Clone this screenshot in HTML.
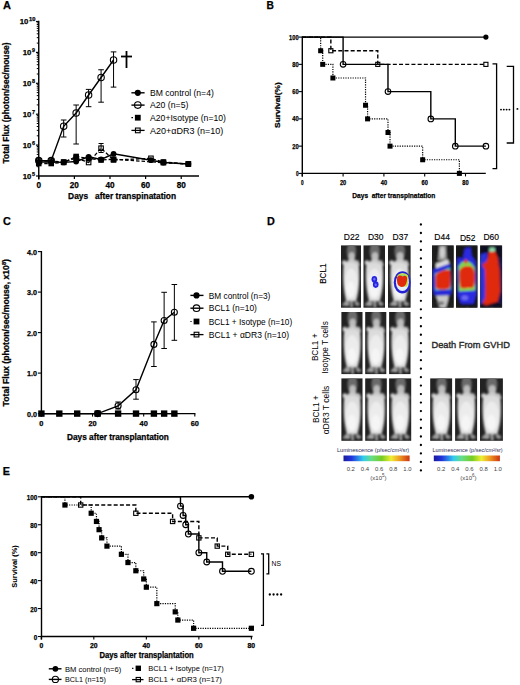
<!DOCTYPE html>
<html><head><meta charset="utf-8"><style>
html,body{margin:0;padding:0;background:#fff;width:520px;height:685px;overflow:hidden}
svg{display:block}
text{font-family:"Liberation Sans", sans-serif}
text[font-weight=bold]{stroke:#000;stroke-width:0.25px}
</style></head><body>
<svg width="520" height="685" viewBox="0 0 520 685">

<defs>
<filter id="bl" x="-20%" y="-20%" width="140%" height="140%"><feGaussianBlur stdDeviation="1.0"/></filter>
<filter id="bl2" x="-20%" y="-20%" width="140%" height="140%"><feGaussianBlur stdDeviation="0.85"/></filter>
<filter id="bl3" x="-20%" y="-20%" width="140%" height="140%"><feGaussianBlur stdDeviation="0.45"/></filter>
<linearGradient id="lum" x1="0" x2="1" y1="0" y2="0">
<stop offset="0" stop-color="#1a1a9a"/><stop offset="0.12" stop-color="#2233dd"/><stop offset="0.3" stop-color="#33ccee"/>
<stop offset="0.42" stop-color="#66dd88"/><stop offset="0.58" stop-color="#77cc22"/><stop offset="0.72" stop-color="#eeee33"/>
<stop offset="0.85" stop-color="#ee9922"/><stop offset="1" stop-color="#cc3311"/></linearGradient>
<clipPath id="fr"><rect width="22" height="62"/></clipPath>
</defs>

<rect width="520" height="685" fill="#fff"/>
<text x="3.00" y="9.30" font-size="11" font-weight="bold" text-anchor="start" fill="#000">A</text>
<line x1="38.75" y1="20.80" x2="38.75" y2="179.50" stroke="#000" stroke-width="1.4"/>
<line x1="38.75" y1="176.00" x2="199.00" y2="176.00" stroke="#000" stroke-width="1.4"/>
<line x1="38.75" y1="176.00" x2="38.75" y2="179.00" stroke="#000" stroke-width="1.2"/>
<text x="38.75" y="187.80" font-size="8.2" font-weight="bold" text-anchor="middle" fill="#000">0</text>
<line x1="74.37" y1="176.00" x2="74.37" y2="179.00" stroke="#000" stroke-width="1.2"/>
<text x="74.37" y="187.80" font-size="8.2" font-weight="bold" text-anchor="middle" fill="#000">20</text>
<line x1="109.99" y1="176.00" x2="109.99" y2="179.00" stroke="#000" stroke-width="1.2"/>
<text x="109.99" y="187.80" font-size="8.2" font-weight="bold" text-anchor="middle" fill="#000">40</text>
<line x1="145.61" y1="176.00" x2="145.61" y2="179.00" stroke="#000" stroke-width="1.2"/>
<text x="145.61" y="187.80" font-size="8.2" font-weight="bold" text-anchor="middle" fill="#000">60</text>
<line x1="181.23" y1="176.00" x2="181.23" y2="179.00" stroke="#000" stroke-width="1.2"/>
<text x="181.23" y="187.80" font-size="8.2" font-weight="bold" text-anchor="middle" fill="#000">80</text>
<line x1="35.95" y1="176.00" x2="38.75" y2="176.00" stroke="#000" stroke-width="1.2"/>
<line x1="36.75" y1="166.70" x2="38.75" y2="166.70" stroke="#000" stroke-width="1.0"/>
<line x1="36.75" y1="161.26" x2="38.75" y2="161.26" stroke="#000" stroke-width="1.0"/>
<line x1="36.75" y1="157.40" x2="38.75" y2="157.40" stroke="#000" stroke-width="1.0"/>
<line x1="36.75" y1="154.40" x2="38.75" y2="154.40" stroke="#000" stroke-width="1.0"/>
<line x1="36.75" y1="151.96" x2="38.75" y2="151.96" stroke="#000" stroke-width="1.0"/>
<line x1="36.75" y1="149.89" x2="38.75" y2="149.89" stroke="#000" stroke-width="1.0"/>
<line x1="36.75" y1="148.09" x2="38.75" y2="148.09" stroke="#000" stroke-width="1.0"/>
<line x1="36.75" y1="146.51" x2="38.75" y2="146.51" stroke="#000" stroke-width="1.0"/>
<text x="31.40" y="178.90" font-size="7.8" font-weight="bold" text-anchor="end" fill="#000" textLength="8.60" lengthAdjust="spacingAndGlyphs">10</text>
<text x="32.00" y="175.70" font-size="5.4" font-weight="bold" text-anchor="start" fill="#000">5</text>
<line x1="35.95" y1="145.10" x2="38.75" y2="145.10" stroke="#000" stroke-width="1.2"/>
<line x1="36.75" y1="135.80" x2="38.75" y2="135.80" stroke="#000" stroke-width="1.0"/>
<line x1="36.75" y1="130.36" x2="38.75" y2="130.36" stroke="#000" stroke-width="1.0"/>
<line x1="36.75" y1="126.50" x2="38.75" y2="126.50" stroke="#000" stroke-width="1.0"/>
<line x1="36.75" y1="123.50" x2="38.75" y2="123.50" stroke="#000" stroke-width="1.0"/>
<line x1="36.75" y1="121.06" x2="38.75" y2="121.06" stroke="#000" stroke-width="1.0"/>
<line x1="36.75" y1="118.99" x2="38.75" y2="118.99" stroke="#000" stroke-width="1.0"/>
<line x1="36.75" y1="117.19" x2="38.75" y2="117.19" stroke="#000" stroke-width="1.0"/>
<line x1="36.75" y1="115.61" x2="38.75" y2="115.61" stroke="#000" stroke-width="1.0"/>
<text x="31.40" y="148.00" font-size="7.8" font-weight="bold" text-anchor="end" fill="#000" textLength="8.60" lengthAdjust="spacingAndGlyphs">10</text>
<text x="32.00" y="144.80" font-size="5.4" font-weight="bold" text-anchor="start" fill="#000">6</text>
<line x1="35.95" y1="114.20" x2="38.75" y2="114.20" stroke="#000" stroke-width="1.2"/>
<line x1="36.75" y1="104.90" x2="38.75" y2="104.90" stroke="#000" stroke-width="1.0"/>
<line x1="36.75" y1="99.46" x2="38.75" y2="99.46" stroke="#000" stroke-width="1.0"/>
<line x1="36.75" y1="95.60" x2="38.75" y2="95.60" stroke="#000" stroke-width="1.0"/>
<line x1="36.75" y1="92.60" x2="38.75" y2="92.60" stroke="#000" stroke-width="1.0"/>
<line x1="36.75" y1="90.16" x2="38.75" y2="90.16" stroke="#000" stroke-width="1.0"/>
<line x1="36.75" y1="88.09" x2="38.75" y2="88.09" stroke="#000" stroke-width="1.0"/>
<line x1="36.75" y1="86.29" x2="38.75" y2="86.29" stroke="#000" stroke-width="1.0"/>
<line x1="36.75" y1="84.71" x2="38.75" y2="84.71" stroke="#000" stroke-width="1.0"/>
<text x="31.40" y="117.10" font-size="7.8" font-weight="bold" text-anchor="end" fill="#000" textLength="8.60" lengthAdjust="spacingAndGlyphs">10</text>
<text x="32.00" y="113.90" font-size="5.4" font-weight="bold" text-anchor="start" fill="#000">7</text>
<line x1="35.95" y1="83.30" x2="38.75" y2="83.30" stroke="#000" stroke-width="1.2"/>
<line x1="36.75" y1="74.00" x2="38.75" y2="74.00" stroke="#000" stroke-width="1.0"/>
<line x1="36.75" y1="68.56" x2="38.75" y2="68.56" stroke="#000" stroke-width="1.0"/>
<line x1="36.75" y1="64.70" x2="38.75" y2="64.70" stroke="#000" stroke-width="1.0"/>
<line x1="36.75" y1="61.70" x2="38.75" y2="61.70" stroke="#000" stroke-width="1.0"/>
<line x1="36.75" y1="59.26" x2="38.75" y2="59.26" stroke="#000" stroke-width="1.0"/>
<line x1="36.75" y1="57.19" x2="38.75" y2="57.19" stroke="#000" stroke-width="1.0"/>
<line x1="36.75" y1="55.39" x2="38.75" y2="55.39" stroke="#000" stroke-width="1.0"/>
<line x1="36.75" y1="53.81" x2="38.75" y2="53.81" stroke="#000" stroke-width="1.0"/>
<text x="31.40" y="86.20" font-size="7.8" font-weight="bold" text-anchor="end" fill="#000" textLength="8.60" lengthAdjust="spacingAndGlyphs">10</text>
<text x="32.00" y="83.00" font-size="5.4" font-weight="bold" text-anchor="start" fill="#000">8</text>
<line x1="35.95" y1="52.40" x2="38.75" y2="52.40" stroke="#000" stroke-width="1.2"/>
<line x1="36.75" y1="43.10" x2="38.75" y2="43.10" stroke="#000" stroke-width="1.0"/>
<line x1="36.75" y1="37.66" x2="38.75" y2="37.66" stroke="#000" stroke-width="1.0"/>
<line x1="36.75" y1="33.80" x2="38.75" y2="33.80" stroke="#000" stroke-width="1.0"/>
<line x1="36.75" y1="30.80" x2="38.75" y2="30.80" stroke="#000" stroke-width="1.0"/>
<line x1="36.75" y1="28.36" x2="38.75" y2="28.36" stroke="#000" stroke-width="1.0"/>
<line x1="36.75" y1="26.29" x2="38.75" y2="26.29" stroke="#000" stroke-width="1.0"/>
<line x1="36.75" y1="24.49" x2="38.75" y2="24.49" stroke="#000" stroke-width="1.0"/>
<line x1="36.75" y1="22.91" x2="38.75" y2="22.91" stroke="#000" stroke-width="1.0"/>
<text x="31.40" y="55.30" font-size="7.8" font-weight="bold" text-anchor="end" fill="#000" textLength="8.60" lengthAdjust="spacingAndGlyphs">10</text>
<text x="32.00" y="52.10" font-size="5.4" font-weight="bold" text-anchor="start" fill="#000">9</text>
<line x1="35.95" y1="21.50" x2="38.75" y2="21.50" stroke="#000" stroke-width="1.2"/>
<text x="28.40" y="24.40" font-size="7.8" font-weight="bold" text-anchor="end" fill="#000" textLength="8.60" lengthAdjust="spacingAndGlyphs">10</text>
<text x="29.00" y="21.20" font-size="5.4" font-weight="bold" text-anchor="start" fill="#000" textLength="6.40" lengthAdjust="spacingAndGlyphs">10</text>
<text x="68.10" y="199.40" font-size="9.2" font-weight="bold" text-anchor="start" fill="#000" textLength="108.00" lengthAdjust="spacingAndGlyphs">Days&#160;&#160; after transpinatation</text>
<text x="9.30" y="103.00" font-size="9" font-weight="bold" text-anchor="middle" fill="#000" textLength="121.00" lengthAdjust="spacingAndGlyphs" transform="rotate(-90 9.30 103.00)">Total Flux (photon/sec/mouse)</text>
<line x1="126.50" y1="51.00" x2="126.50" y2="68.00" stroke="#000" stroke-width="1.8"/>
<line x1="121.00" y1="56.50" x2="132.00" y2="56.50" stroke="#000" stroke-width="1.8"/>
<line x1="63.68" y1="120.00" x2="63.68" y2="137.00" stroke="#000" stroke-width="1.0"/>
<line x1="60.88" y1="120.00" x2="66.48" y2="120.00" stroke="#000" stroke-width="1.0"/>
<line x1="60.88" y1="137.00" x2="66.48" y2="137.00" stroke="#000" stroke-width="1.0"/>
<line x1="76.15" y1="105.00" x2="76.15" y2="144.00" stroke="#000" stroke-width="1.0"/>
<line x1="73.35" y1="105.00" x2="78.95" y2="105.00" stroke="#000" stroke-width="1.0"/>
<line x1="73.35" y1="144.00" x2="78.95" y2="144.00" stroke="#000" stroke-width="1.0"/>
<line x1="88.62" y1="89.40" x2="88.62" y2="106.70" stroke="#000" stroke-width="1.0"/>
<line x1="85.82" y1="89.40" x2="91.42" y2="89.40" stroke="#000" stroke-width="1.0"/>
<line x1="85.82" y1="106.70" x2="91.42" y2="106.70" stroke="#000" stroke-width="1.0"/>
<line x1="101.08" y1="69.75" x2="101.08" y2="102.20" stroke="#000" stroke-width="1.0"/>
<line x1="98.28" y1="69.75" x2="103.88" y2="69.75" stroke="#000" stroke-width="1.0"/>
<line x1="98.28" y1="102.20" x2="103.88" y2="102.20" stroke="#000" stroke-width="1.0"/>
<line x1="113.55" y1="51.90" x2="113.55" y2="87.10" stroke="#000" stroke-width="1.0"/>
<line x1="110.75" y1="51.90" x2="116.35" y2="51.90" stroke="#000" stroke-width="1.0"/>
<line x1="110.75" y1="87.10" x2="116.35" y2="87.10" stroke="#000" stroke-width="1.0"/>
<line x1="101.08" y1="143.50" x2="101.08" y2="152.50" stroke="#000" stroke-width="1.0"/>
<line x1="98.58" y1="143.50" x2="103.58" y2="143.50" stroke="#000" stroke-width="1.0"/>
<line x1="98.58" y1="152.50" x2="103.58" y2="152.50" stroke="#000" stroke-width="1.0"/>
<polyline points="38.75,163.50 51.22,163.50 63.68,162.40 76.15,156.50 88.62,158.50 101.08,160.00 113.55,159.20 163.42,162.70 188.35,164.00" fill="none" stroke="#000" stroke-width="1.3" stroke-dasharray="3.5,2" stroke-linejoin="miter"/>
<polyline points="38.75,161.00 51.22,161.00 63.68,162.00 76.15,158.00 88.62,162.50 101.08,148.20 113.55,160.00 150.95,158.30 163.42,162.00 188.35,164.00" fill="none" stroke="#000" stroke-width="1.3" stroke-dasharray="3.5,2" stroke-linejoin="miter"/>
<polyline points="38.75,162.00 51.22,162.00 63.68,162.40 76.15,161.50 88.62,156.80 101.08,159.50 113.55,153.80 150.95,160.20 163.42,162.50 188.35,164.00" fill="none" stroke="#000" stroke-width="1.4" stroke-linejoin="miter"/>
<polyline points="38.75,160.60 51.22,160.60 63.68,126.25 76.15,113.00 88.62,95.00 101.08,77.50 113.55,60.00" fill="none" stroke="#000" stroke-width="1.4" stroke-linejoin="miter"/>
<rect x="35.95" y="160.70" width="5.6" height="5.6" fill="#000"/>
<rect x="48.42" y="160.70" width="5.6" height="5.6" fill="#000"/>
<rect x="60.88" y="159.60" width="5.6" height="5.6" fill="#000"/>
<rect x="73.35" y="153.70" width="5.6" height="5.6" fill="#000"/>
<rect x="85.82" y="155.70" width="5.6" height="5.6" fill="#000"/>
<rect x="98.28" y="157.20" width="5.6" height="5.6" fill="#000"/>
<rect x="110.75" y="156.40" width="5.6" height="5.6" fill="#000"/>
<rect x="160.62" y="159.90" width="5.6" height="5.6" fill="#000"/>
<rect x="185.55" y="161.20" width="5.6" height="5.6" fill="#000"/>
<rect x="36.50" y="158.75" width="4.5" height="4.5" fill="none" stroke="#000" stroke-width="1.1"/>
<rect x="48.97" y="158.75" width="4.5" height="4.5" fill="none" stroke="#000" stroke-width="1.1"/>
<rect x="61.43" y="159.75" width="4.5" height="4.5" fill="none" stroke="#000" stroke-width="1.1"/>
<rect x="73.90" y="155.75" width="4.5" height="4.5" fill="none" stroke="#000" stroke-width="1.1"/>
<rect x="86.37" y="160.25" width="4.5" height="4.5" fill="none" stroke="#000" stroke-width="1.1"/>
<rect x="98.83" y="145.95" width="4.5" height="4.5" fill="none" stroke="#000" stroke-width="1.1"/>
<rect x="111.30" y="157.75" width="4.5" height="4.5" fill="none" stroke="#000" stroke-width="1.1"/>
<rect x="148.70" y="156.05" width="4.5" height="4.5" fill="none" stroke="#000" stroke-width="1.1"/>
<rect x="161.17" y="159.75" width="4.5" height="4.5" fill="none" stroke="#000" stroke-width="1.1"/>
<rect x="186.10" y="161.75" width="4.5" height="4.5" fill="none" stroke="#000" stroke-width="1.1"/>
<circle cx="38.75" cy="162.00" r="2.9" fill="#000"/>
<circle cx="51.22" cy="162.00" r="2.9" fill="#000"/>
<circle cx="63.68" cy="162.40" r="2.9" fill="#000"/>
<circle cx="76.15" cy="161.50" r="2.9" fill="#000"/>
<circle cx="88.62" cy="156.80" r="2.9" fill="#000"/>
<circle cx="101.08" cy="159.50" r="2.9" fill="#000"/>
<circle cx="113.55" cy="153.80" r="2.9" fill="#000"/>
<circle cx="150.95" cy="160.20" r="2.9" fill="#000"/>
<circle cx="163.42" cy="162.50" r="2.9" fill="#000"/>
<circle cx="188.35" cy="164.00" r="2.9" fill="#000"/>
<circle cx="38.75" cy="160.60" r="3.2" fill="none" stroke="#000" stroke-width="1.1"/>
<circle cx="51.22" cy="160.60" r="3.2" fill="none" stroke="#000" stroke-width="1.1"/>
<circle cx="63.68" cy="126.25" r="3.2" fill="none" stroke="#000" stroke-width="1.1"/>
<circle cx="76.15" cy="113.00" r="3.2" fill="none" stroke="#000" stroke-width="1.1"/>
<circle cx="88.62" cy="95.00" r="3.2" fill="none" stroke="#000" stroke-width="1.1"/>
<circle cx="101.08" cy="77.50" r="3.2" fill="none" stroke="#000" stroke-width="1.1"/>
<circle cx="113.55" cy="60.00" r="3.2" fill="none" stroke="#000" stroke-width="1.1"/>
<line x1="131.40" y1="92.80" x2="144.60" y2="92.80" stroke="#000" stroke-width="1.4"/>
<circle cx="137.80" cy="92.80" r="3.1" fill="#000"/>
<text x="150.00" y="95.90" font-size="8.8" font-weight="normal" text-anchor="start" fill="#000" textLength="63.80" lengthAdjust="spacingAndGlyphs">BM control (n=4)</text>
<line x1="131.40" y1="105.10" x2="144.60" y2="105.10" stroke="#000" stroke-width="1.4"/>
<circle cx="137.80" cy="105.10" r="3.3" fill="none" stroke="#000" stroke-width="1.1"/>
<text x="150.00" y="108.20" font-size="8.8" font-weight="normal" text-anchor="start" fill="#000" textLength="38.40" lengthAdjust="spacingAndGlyphs">A20 (n=5)</text>
<line x1="131.40" y1="117.70" x2="133.00" y2="117.70" stroke="#000" stroke-width="1.2"/>
<rect x="134.90" y="114.80" width="5.8" height="5.8" fill="#000"/>
<text x="150.00" y="120.80" font-size="8.8" font-weight="normal" text-anchor="start" fill="#000" textLength="76.00" lengthAdjust="spacingAndGlyphs">A20+Isotype (n=10)</text>
<line x1="131.40" y1="130.40" x2="144.60" y2="130.40" stroke="#000" stroke-width="1.3"/>
<rect x="135.45" y="128.05" width="4.699999999999999" height="4.699999999999999" fill="none" stroke="#000" stroke-width="1.1"/>
<text x="150.00" y="133.50" font-size="8.8" font-weight="normal" text-anchor="start" fill="#000" textLength="73.30" lengthAdjust="spacingAndGlyphs">A20+&#945;DR3 (n=10)</text>
<text x="266.60" y="9.20" font-size="10.2" font-weight="bold" text-anchor="start" fill="#000">B</text>
<line x1="302.30" y1="36.50" x2="302.30" y2="176.40" stroke="#000" stroke-width="1.4"/>
<line x1="302.30" y1="173.40" x2="485.80" y2="173.40" stroke="#000" stroke-width="1.4"/>
<line x1="298.60" y1="173.40" x2="302.30" y2="173.40" stroke="#000" stroke-width="1.1"/>
<text x="298.60" y="176.00" font-size="7.2" font-weight="bold" text-anchor="end" fill="#000" textLength="2.60" lengthAdjust="spacingAndGlyphs">0</text>
<line x1="298.60" y1="146.14" x2="302.30" y2="146.14" stroke="#000" stroke-width="1.1"/>
<text x="298.60" y="148.74" font-size="7.2" font-weight="bold" text-anchor="end" fill="#000" textLength="6.40" lengthAdjust="spacingAndGlyphs">20</text>
<line x1="298.60" y1="118.88" x2="302.30" y2="118.88" stroke="#000" stroke-width="1.1"/>
<text x="298.60" y="121.48" font-size="7.2" font-weight="bold" text-anchor="end" fill="#000" textLength="6.40" lengthAdjust="spacingAndGlyphs">40</text>
<line x1="298.60" y1="91.62" x2="302.30" y2="91.62" stroke="#000" stroke-width="1.1"/>
<text x="298.60" y="94.22" font-size="7.2" font-weight="bold" text-anchor="end" fill="#000" textLength="6.40" lengthAdjust="spacingAndGlyphs">60</text>
<line x1="298.60" y1="64.36" x2="302.30" y2="64.36" stroke="#000" stroke-width="1.1"/>
<text x="298.60" y="66.96" font-size="7.2" font-weight="bold" text-anchor="end" fill="#000" textLength="6.40" lengthAdjust="spacingAndGlyphs">80</text>
<line x1="298.60" y1="37.10" x2="302.30" y2="37.10" stroke="#000" stroke-width="1.1"/>
<text x="298.60" y="39.70" font-size="7.2" font-weight="bold" text-anchor="end" fill="#000" textLength="9.50" lengthAdjust="spacingAndGlyphs">100</text>
<line x1="302.30" y1="173.40" x2="302.30" y2="176.40" stroke="#000" stroke-width="1.1"/>
<text x="302.30" y="184.80" font-size="6.8" font-weight="bold" text-anchor="middle" fill="#000" textLength="2.60" lengthAdjust="spacingAndGlyphs">0</text>
<line x1="343.10" y1="173.40" x2="343.10" y2="176.40" stroke="#000" stroke-width="1.1"/>
<text x="343.10" y="184.80" font-size="6.8" font-weight="bold" text-anchor="middle" fill="#000" textLength="6.30" lengthAdjust="spacingAndGlyphs">20</text>
<line x1="383.90" y1="173.40" x2="383.90" y2="176.40" stroke="#000" stroke-width="1.1"/>
<text x="383.90" y="184.80" font-size="6.8" font-weight="bold" text-anchor="middle" fill="#000" textLength="6.30" lengthAdjust="spacingAndGlyphs">40</text>
<line x1="424.70" y1="173.40" x2="424.70" y2="176.40" stroke="#000" stroke-width="1.1"/>
<text x="424.70" y="184.80" font-size="6.8" font-weight="bold" text-anchor="middle" fill="#000" textLength="6.30" lengthAdjust="spacingAndGlyphs">60</text>
<line x1="465.50" y1="173.40" x2="465.50" y2="176.40" stroke="#000" stroke-width="1.1"/>
<text x="465.50" y="184.80" font-size="6.8" font-weight="bold" text-anchor="middle" fill="#000" textLength="6.30" lengthAdjust="spacingAndGlyphs">80</text>
<text x="352.30" y="198.20" font-size="8.0" font-weight="bold" text-anchor="start" fill="#000" textLength="83.10" lengthAdjust="spacingAndGlyphs">Days&#160; after transpinatation</text>
<text x="280.00" y="105.10" font-size="7.6" font-weight="bold" text-anchor="middle" fill="#000" textLength="45.60" lengthAdjust="spacingAndGlyphs" transform="rotate(-90 280.00 105.10)">Survival(%)</text>
<line x1="302.30" y1="37.10" x2="485.90" y2="37.10" stroke="#000" stroke-width="1.4"/>
<polyline points="302.30,37.10 320.66,37.10 320.66,50.73 322.70,50.73 322.70,64.36 332.90,64.36 332.90,77.99 365.54,77.99 365.54,105.25 367.58,105.25 367.58,118.88 387.98,118.88 387.98,132.51 390.02,132.51 390.02,146.14 422.66,146.14 422.66,159.77 459.38,159.77 459.38,173.40" fill="none" stroke="#000" stroke-width="1.2" stroke-dasharray="1.2,1.2" stroke-linejoin="miter"/>
<polyline points="302.30,37.10 330.86,37.10 330.86,50.73 377.78,50.73 377.78,64.36 485.90,64.36 485.90,64.36" fill="none" stroke="#000" stroke-width="1.4" stroke-dasharray="4,2.2" stroke-linejoin="miter"/>
<polyline points="302.30,37.10 343.10,37.10 343.10,64.36 387.98,64.36 387.98,91.62 430.82,91.62 430.82,118.88 455.30,118.88 455.30,146.14 485.90,146.14 485.90,146.14" fill="none" stroke="#000" stroke-width="1.4" stroke-linejoin="miter"/>
<rect x="318.16" y="48.23" width="5.0" height="5.0" fill="#000"/>
<rect x="320.20" y="61.86" width="5.0" height="5.0" fill="#000"/>
<rect x="330.40" y="75.49" width="5.0" height="5.0" fill="#000"/>
<rect x="363.04" y="102.75" width="5.0" height="5.0" fill="#000"/>
<rect x="365.08" y="116.38" width="5.0" height="5.0" fill="#000"/>
<rect x="385.48" y="130.01" width="5.0" height="5.0" fill="#000"/>
<rect x="387.52" y="143.64" width="5.0" height="5.0" fill="#000"/>
<rect x="420.16" y="157.27" width="5.0" height="5.0" fill="#000"/>
<rect x="456.88" y="170.90" width="5.0" height="5.0" fill="#000"/>
<rect x="483.85" y="62.31" width="4.1" height="4.1" fill="none" stroke="#000" stroke-width="1.1"/>
<rect x="328.81" y="48.68" width="4.1" height="4.1" fill="none" stroke="#000" stroke-width="1.1"/>
<rect x="375.73" y="62.31" width="4.1" height="4.1" fill="none" stroke="#000" stroke-width="1.1"/>
<circle cx="343.10" cy="64.36" r="2.8" fill="none" stroke="#000" stroke-width="1.1"/>
<circle cx="387.98" cy="91.62" r="2.8" fill="none" stroke="#000" stroke-width="1.1"/>
<circle cx="430.82" cy="118.88" r="2.8" fill="none" stroke="#000" stroke-width="1.1"/>
<circle cx="455.30" cy="146.14" r="2.8" fill="none" stroke="#000" stroke-width="1.1"/>
<circle cx="485.90" cy="146.14" r="2.8" fill="none" stroke="#000" stroke-width="1.1"/>
<circle cx="485.90" cy="37.10" r="2.6" fill="#000"/>
<polyline points="492.50,63.90 496.60,63.90 496.60,168.70 492.50,168.70" fill="none" stroke="#000" stroke-width="1.3" stroke-linejoin="miter"/>
<polyline points="506.70,66.40 513.50,66.40 513.50,143.00 506.70,143.00" fill="none" stroke="#000" stroke-width="1.3" stroke-linejoin="miter"/>
<circle cx="501.00" cy="109.6" r="0.95" fill="#000"/>
<circle cx="503.80" cy="109.6" r="0.95" fill="#000"/>
<circle cx="506.60" cy="109.6" r="0.95" fill="#000"/>
<circle cx="509.40" cy="109.6" r="0.95" fill="#000"/>
<circle cx="517.4" cy="108.9" r="0.95" fill="#000"/>
<text x="3.10" y="224.60" font-size="10.8" font-weight="bold" text-anchor="start" fill="#000">C</text>
<line x1="41.40" y1="251.00" x2="41.40" y2="416.60" stroke="#000" stroke-width="1.4"/>
<line x1="41.40" y1="413.60" x2="195.40" y2="413.60" stroke="#000" stroke-width="1.4"/>
<line x1="37.90" y1="413.60" x2="41.40" y2="413.60" stroke="#000" stroke-width="1.1"/>
<text x="37.10" y="416.80" font-size="7.6" font-weight="bold" text-anchor="end" fill="#000" textLength="10.00" lengthAdjust="spacingAndGlyphs">0.0</text>
<line x1="37.90" y1="373.10" x2="41.40" y2="373.10" stroke="#000" stroke-width="1.1"/>
<text x="37.10" y="376.30" font-size="7.6" font-weight="bold" text-anchor="end" fill="#000" textLength="10.00" lengthAdjust="spacingAndGlyphs">1.0</text>
<line x1="37.90" y1="332.60" x2="41.40" y2="332.60" stroke="#000" stroke-width="1.1"/>
<text x="37.10" y="335.80" font-size="7.6" font-weight="bold" text-anchor="end" fill="#000" textLength="10.00" lengthAdjust="spacingAndGlyphs">2.0</text>
<line x1="37.90" y1="292.10" x2="41.40" y2="292.10" stroke="#000" stroke-width="1.1"/>
<text x="37.10" y="295.30" font-size="7.6" font-weight="bold" text-anchor="end" fill="#000" textLength="10.00" lengthAdjust="spacingAndGlyphs">3.0</text>
<line x1="37.90" y1="251.60" x2="41.40" y2="251.60" stroke="#000" stroke-width="1.1"/>
<text x="37.10" y="254.80" font-size="7.6" font-weight="bold" text-anchor="end" fill="#000" textLength="10.00" lengthAdjust="spacingAndGlyphs">4.0</text>
<line x1="41.40" y1="413.60" x2="41.40" y2="416.60" stroke="#000" stroke-width="1.1"/>
<text x="41.40" y="426.10" font-size="7.4" font-weight="bold" text-anchor="middle" fill="#000">0</text>
<line x1="92.54" y1="413.60" x2="92.54" y2="416.60" stroke="#000" stroke-width="1.1"/>
<text x="92.54" y="426.10" font-size="7.4" font-weight="bold" text-anchor="middle" fill="#000">20</text>
<line x1="143.68" y1="413.60" x2="143.68" y2="416.60" stroke="#000" stroke-width="1.1"/>
<text x="143.68" y="426.10" font-size="7.4" font-weight="bold" text-anchor="middle" fill="#000">40</text>
<line x1="194.82" y1="413.60" x2="194.82" y2="416.60" stroke="#000" stroke-width="1.1"/>
<text x="194.82" y="426.10" font-size="7.4" font-weight="bold" text-anchor="middle" fill="#000">60</text>
<text x="67.00" y="439.80" font-size="8.4" font-weight="bold" text-anchor="start" fill="#000" textLength="101.90" lengthAdjust="spacingAndGlyphs">Days after transplantation</text>
<text x="9" y="332.7" font-size="8.4" font-weight="bold" text-anchor="middle" textLength="147.4" lengthAdjust="spacingAndGlyphs" transform="rotate(-90 9 332.7)">Total Flux (photon/sec/mouse, x10<tspan font-size="5.5" dy="-3">8</tspan><tspan dy="3">)</tspan></text>
<line x1="118.11" y1="402.00" x2="118.11" y2="409.00" stroke="#000" stroke-width="1.0"/>
<line x1="115.31" y1="402.00" x2="120.91" y2="402.00" stroke="#000" stroke-width="1.0"/>
<line x1="115.31" y1="409.00" x2="120.91" y2="409.00" stroke="#000" stroke-width="1.0"/>
<line x1="136.01" y1="379.60" x2="136.01" y2="399.20" stroke="#000" stroke-width="1.0"/>
<line x1="133.21" y1="379.60" x2="138.81" y2="379.60" stroke="#000" stroke-width="1.0"/>
<line x1="133.21" y1="399.20" x2="138.81" y2="399.20" stroke="#000" stroke-width="1.0"/>
<line x1="153.91" y1="321.90" x2="153.91" y2="366.50" stroke="#000" stroke-width="1.0"/>
<line x1="151.11" y1="321.90" x2="156.71" y2="321.90" stroke="#000" stroke-width="1.0"/>
<line x1="151.11" y1="366.50" x2="156.71" y2="366.50" stroke="#000" stroke-width="1.0"/>
<line x1="164.14" y1="292.30" x2="164.14" y2="348.50" stroke="#000" stroke-width="1.0"/>
<line x1="161.34" y1="292.30" x2="166.94" y2="292.30" stroke="#000" stroke-width="1.0"/>
<line x1="161.34" y1="348.50" x2="166.94" y2="348.50" stroke="#000" stroke-width="1.0"/>
<line x1="174.36" y1="284.50" x2="174.36" y2="340.30" stroke="#000" stroke-width="1.0"/>
<line x1="171.56" y1="284.50" x2="177.16" y2="284.50" stroke="#000" stroke-width="1.0"/>
<line x1="171.56" y1="340.30" x2="177.16" y2="340.30" stroke="#000" stroke-width="1.0"/>
<polyline points="41.40,413.60 59.30,413.60 77.20,413.60 97.65,413.60 118.11,413.60 136.01,413.60 153.91,413.60 164.14,413.60 174.36,413.60" fill="none" stroke="#000" stroke-width="1.4" stroke-linejoin="miter"/>
<polyline points="41.40,413.60 97.65,413.60 118.11,405.80 136.01,389.80 153.91,344.40 164.14,320.50 174.36,312.30" fill="none" stroke="#000" stroke-width="1.4" stroke-linejoin="miter"/>
<rect x="38.20" y="410.40" width="6.4" height="6.4" fill="#000"/>
<rect x="56.10" y="410.40" width="6.4" height="6.4" fill="#000"/>
<rect x="74.00" y="410.40" width="6.4" height="6.4" fill="#000"/>
<rect x="94.45" y="410.40" width="6.4" height="6.4" fill="#000"/>
<rect x="114.91" y="410.40" width="6.4" height="6.4" fill="#000"/>
<rect x="132.81" y="410.40" width="6.4" height="6.4" fill="#000"/>
<rect x="150.71" y="410.40" width="6.4" height="6.4" fill="#000"/>
<rect x="160.94" y="410.40" width="6.4" height="6.4" fill="#000"/>
<rect x="171.16" y="410.40" width="6.4" height="6.4" fill="#000"/>
<circle cx="97.65" cy="413.60" r="3.0" fill="none" stroke="#000" stroke-width="1.1"/>
<circle cx="118.11" cy="405.80" r="3.0" fill="none" stroke="#000" stroke-width="1.1"/>
<circle cx="136.01" cy="389.80" r="3.0" fill="none" stroke="#000" stroke-width="1.1"/>
<circle cx="153.91" cy="344.40" r="3.0" fill="none" stroke="#000" stroke-width="1.1"/>
<circle cx="164.14" cy="320.50" r="3.0" fill="none" stroke="#000" stroke-width="1.1"/>
<circle cx="174.36" cy="312.30" r="3.0" fill="none" stroke="#000" stroke-width="1.1"/>
<line x1="190.40" y1="295.40" x2="203.50" y2="295.40" stroke="#000" stroke-width="1.4"/>
<circle cx="196.50" cy="295.40" r="3.1" fill="#000"/>
<text x="208.80" y="298.50" font-size="8.7" font-weight="normal" text-anchor="start" fill="#000" textLength="61.60" lengthAdjust="spacingAndGlyphs">BM control (n=3)</text>
<line x1="190.40" y1="308.20" x2="203.50" y2="308.20" stroke="#000" stroke-width="1.4"/>
<circle cx="196.50" cy="308.20" r="3.3" fill="none" stroke="#000" stroke-width="1.1"/>
<text x="208.80" y="311.30" font-size="8.7" font-weight="normal" text-anchor="start" fill="#000" textLength="48.10" lengthAdjust="spacingAndGlyphs">BCL1 (n=10)</text>
<line x1="190.40" y1="321.50" x2="191.60" y2="321.50" stroke="#000" stroke-width="1.2"/>
<rect x="193.60" y="318.60" width="5.8" height="5.8" fill="#000"/>
<text x="208.80" y="324.60" font-size="8.7" font-weight="normal" text-anchor="start" fill="#000" textLength="83.40" lengthAdjust="spacingAndGlyphs">BCL1 + Isotype (n=10)</text>
<line x1="190.40" y1="334.60" x2="203.50" y2="334.60" stroke="#000" stroke-width="1.3"/>
<rect x="194.15" y="332.25" width="4.699999999999999" height="4.699999999999999" fill="none" stroke="#000" stroke-width="1.1"/>
<text x="208.80" y="337.70" font-size="8.7" font-weight="normal" text-anchor="start" fill="#000" textLength="80.40" lengthAdjust="spacingAndGlyphs">BCL1 + &#945;DR3 (n=10)</text>
<text x="2.75" y="474.60" font-size="10.8" font-weight="bold" text-anchor="start" fill="#000">E</text>
<line x1="41.50" y1="496.20" x2="41.50" y2="639.50" stroke="#000" stroke-width="1.4"/>
<line x1="41.50" y1="636.50" x2="252.50" y2="636.50" stroke="#000" stroke-width="1.4"/>
<line x1="37.90" y1="636.50" x2="41.50" y2="636.50" stroke="#000" stroke-width="1.1"/>
<text x="37.20" y="639.50" font-size="6.8" font-weight="bold" text-anchor="end" fill="#000" textLength="3.50" lengthAdjust="spacingAndGlyphs">0</text>
<line x1="37.90" y1="608.56" x2="41.50" y2="608.56" stroke="#000" stroke-width="1.1"/>
<text x="37.20" y="611.56" font-size="6.8" font-weight="bold" text-anchor="end" fill="#000" textLength="6.90" lengthAdjust="spacingAndGlyphs">20</text>
<line x1="37.90" y1="580.62" x2="41.50" y2="580.62" stroke="#000" stroke-width="1.1"/>
<text x="37.20" y="583.62" font-size="6.8" font-weight="bold" text-anchor="end" fill="#000" textLength="6.90" lengthAdjust="spacingAndGlyphs">40</text>
<line x1="37.90" y1="552.68" x2="41.50" y2="552.68" stroke="#000" stroke-width="1.1"/>
<text x="37.20" y="555.68" font-size="6.8" font-weight="bold" text-anchor="end" fill="#000" textLength="6.90" lengthAdjust="spacingAndGlyphs">60</text>
<line x1="37.90" y1="524.74" x2="41.50" y2="524.74" stroke="#000" stroke-width="1.1"/>
<text x="37.20" y="527.74" font-size="6.8" font-weight="bold" text-anchor="end" fill="#000" textLength="6.90" lengthAdjust="spacingAndGlyphs">80</text>
<line x1="37.90" y1="496.80" x2="41.50" y2="496.80" stroke="#000" stroke-width="1.1"/>
<text x="37.20" y="499.80" font-size="6.8" font-weight="bold" text-anchor="end" fill="#000" textLength="10.40" lengthAdjust="spacingAndGlyphs">100</text>
<line x1="41.30" y1="636.50" x2="41.30" y2="639.50" stroke="#000" stroke-width="1.1"/>
<text x="41.30" y="648.00" font-size="6.8" font-weight="bold" text-anchor="middle" fill="#000">0</text>
<line x1="93.82" y1="636.50" x2="93.82" y2="639.50" stroke="#000" stroke-width="1.1"/>
<text x="93.82" y="648.00" font-size="6.8" font-weight="bold" text-anchor="middle" fill="#000">20</text>
<line x1="146.34" y1="636.50" x2="146.34" y2="639.50" stroke="#000" stroke-width="1.1"/>
<text x="146.34" y="648.00" font-size="6.8" font-weight="bold" text-anchor="middle" fill="#000">40</text>
<line x1="198.86" y1="636.50" x2="198.86" y2="639.50" stroke="#000" stroke-width="1.1"/>
<text x="198.86" y="648.00" font-size="6.8" font-weight="bold" text-anchor="middle" fill="#000">60</text>
<line x1="251.38" y1="636.50" x2="251.38" y2="639.50" stroke="#000" stroke-width="1.1"/>
<text x="251.38" y="648.00" font-size="6.8" font-weight="bold" text-anchor="middle" fill="#000">80</text>
<text x="99.60" y="658.40" font-size="8.2" font-weight="bold" text-anchor="start" fill="#000" textLength="94.20" lengthAdjust="spacingAndGlyphs">Days after transplantation</text>
<text x="16.60" y="566.50" font-size="7.6" font-weight="bold" text-anchor="middle" fill="#000" style="stroke:#000;stroke-width:0.05px" textLength="42.50" lengthAdjust="spacingAndGlyphs" transform="rotate(-90 16.60 566.50)">Survival (%)</text>
<line x1="41.50" y1="496.80" x2="251.38" y2="496.80" stroke="#000" stroke-width="1.4"/>
<polyline points="41.30,496.80 64.93,496.80 64.93,505.02 91.19,505.02 91.19,513.24 96.45,513.24 96.45,521.45 99.07,521.45 99.07,529.67 101.70,529.67 101.70,537.89 106.95,537.89 106.95,546.11 121.39,546.11 121.39,554.32 127.96,554.32 127.96,562.54 135.84,562.54 135.84,570.76 143.71,570.76 143.71,578.98 146.34,578.98 146.34,587.19 156.84,587.19 156.84,603.63 175.23,603.63 175.23,611.85 177.85,611.85 177.85,620.06 193.61,620.06 193.61,628.28 251.38,628.28 251.38,628.28" fill="none" stroke="#000" stroke-width="1.2" stroke-dasharray="1.2,1.2" stroke-linejoin="miter"/>
<polyline points="41.30,496.80 80.69,496.80 80.69,505.02 135.84,505.02 135.84,513.24 172.60,513.24 172.60,521.45 198.86,521.45 198.86,537.89 217.24,537.89 217.24,546.11 227.75,546.11 227.75,554.32 251.38,554.32 251.38,554.32" fill="none" stroke="#000" stroke-width="1.4" stroke-dasharray="4,2.2" stroke-linejoin="miter"/>
<polyline points="41.30,496.80 180.48,496.80 180.48,506.11 183.10,506.11 183.10,515.43 185.73,515.43 185.73,524.74 188.36,524.74 188.36,534.05 198.86,534.05 198.86,552.68 206.74,552.68 206.74,561.99 222.49,561.99 222.49,571.31 251.38,571.31 251.38,571.31" fill="none" stroke="#000" stroke-width="1.4" stroke-linejoin="miter"/>
<rect x="62.33" y="502.42" width="5.2" height="5.2" fill="#000"/>
<rect x="88.59" y="510.64" width="5.2" height="5.2" fill="#000"/>
<rect x="93.85" y="518.85" width="5.2" height="5.2" fill="#000"/>
<rect x="96.47" y="527.07" width="5.2" height="5.2" fill="#000"/>
<rect x="99.10" y="535.29" width="5.2" height="5.2" fill="#000"/>
<rect x="104.35" y="543.51" width="5.2" height="5.2" fill="#000"/>
<rect x="118.79" y="551.72" width="5.2" height="5.2" fill="#000"/>
<rect x="125.36" y="559.94" width="5.2" height="5.2" fill="#000"/>
<rect x="133.24" y="568.16" width="5.2" height="5.2" fill="#000"/>
<rect x="141.11" y="576.38" width="5.2" height="5.2" fill="#000"/>
<rect x="143.74" y="584.59" width="5.2" height="5.2" fill="#000"/>
<rect x="154.24" y="601.03" width="5.2" height="5.2" fill="#000"/>
<rect x="172.63" y="609.25" width="5.2" height="5.2" fill="#000"/>
<rect x="175.25" y="617.46" width="5.2" height="5.2" fill="#000"/>
<rect x="191.01" y="625.68" width="5.2" height="5.2" fill="#000"/>
<rect x="248.78" y="625.68" width="5.2" height="5.2" fill="#000"/>
<rect x="78.54" y="502.87" width="4.300000000000001" height="4.300000000000001" fill="none" stroke="#000" stroke-width="1.1"/>
<rect x="133.69" y="511.09" width="4.300000000000001" height="4.300000000000001" fill="none" stroke="#000" stroke-width="1.1"/>
<rect x="170.45" y="519.30" width="4.300000000000001" height="4.300000000000001" fill="none" stroke="#000" stroke-width="1.1"/>
<rect x="196.71" y="535.74" width="4.300000000000001" height="4.300000000000001" fill="none" stroke="#000" stroke-width="1.1"/>
<rect x="215.09" y="543.96" width="4.300000000000001" height="4.300000000000001" fill="none" stroke="#000" stroke-width="1.1"/>
<rect x="225.60" y="552.17" width="4.300000000000001" height="4.300000000000001" fill="none" stroke="#000" stroke-width="1.1"/>
<rect x="249.23" y="552.17" width="4.300000000000001" height="4.300000000000001" fill="none" stroke="#000" stroke-width="1.1"/>
<circle cx="180.48" cy="506.11" r="2.9" fill="none" stroke="#000" stroke-width="1.1"/>
<circle cx="183.10" cy="515.43" r="2.9" fill="none" stroke="#000" stroke-width="1.1"/>
<circle cx="185.73" cy="524.74" r="2.9" fill="none" stroke="#000" stroke-width="1.1"/>
<circle cx="188.36" cy="534.05" r="2.9" fill="none" stroke="#000" stroke-width="1.1"/>
<circle cx="198.86" cy="552.68" r="2.9" fill="none" stroke="#000" stroke-width="1.1"/>
<circle cx="206.74" cy="561.99" r="2.9" fill="none" stroke="#000" stroke-width="1.1"/>
<circle cx="222.49" cy="571.31" r="2.9" fill="none" stroke="#000" stroke-width="1.1"/>
<circle cx="251.38" cy="571.31" r="2.9" fill="none" stroke="#000" stroke-width="1.1"/>
<circle cx="251.38" cy="496.80" r="2.8" fill="#000"/>
<polyline points="261.00,553.90 263.40,553.90 263.40,625.40 261.00,625.40" fill="none" stroke="#000" stroke-width="1.3" stroke-linejoin="miter"/>
<polyline points="266.40,553.90 268.70,553.90 268.70,573.90 266.40,573.90" fill="none" stroke="#000" stroke-width="1.3" stroke-linejoin="miter"/>
<text x="271.60" y="565.80" font-size="6.6" font-weight="normal" text-anchor="start" fill="#000" textLength="9.40" lengthAdjust="spacingAndGlyphs">NS</text>
<circle cx="269.80" cy="594.5" r="1.15" fill="#000"/>
<circle cx="273.57" cy="594.5" r="1.15" fill="#000"/>
<circle cx="277.34" cy="594.5" r="1.15" fill="#000"/>
<circle cx="281.11" cy="594.5" r="1.15" fill="#000"/>
<line x1="48.80" y1="668.80" x2="61.50" y2="668.80" stroke="#000" stroke-width="1.4"/>
<circle cx="55.40" cy="668.80" r="2.9" fill="#000"/>
<text x="65.00" y="671.60" font-size="8.0" font-weight="normal" text-anchor="start" fill="#000" textLength="56.20" lengthAdjust="spacingAndGlyphs">BM control (n=6)</text>
<line x1="48.80" y1="679.40" x2="61.50" y2="679.40" stroke="#000" stroke-width="1.4"/>
<circle cx="55.40" cy="679.40" r="3.1" fill="none" stroke="#000" stroke-width="1.1"/>
<text x="65.00" y="682.20" font-size="8.0" font-weight="normal" text-anchor="start" fill="#000" textLength="41.00" lengthAdjust="spacingAndGlyphs">BCL1 (n=15)</text>
<line x1="132.10" y1="668.30" x2="133.40" y2="668.30" stroke="#000" stroke-width="1.2"/>
<rect x="135.60" y="665.60" width="5.4" height="5.4" fill="#000"/>
<text x="148.30" y="671.10" font-size="8.0" font-weight="normal" text-anchor="start" fill="#000" textLength="75.50" lengthAdjust="spacingAndGlyphs">BCL1 + Isotype (n=17)</text>
<line x1="132.10" y1="679.60" x2="143.50" y2="679.60" stroke="#000" stroke-width="1.3"/>
<rect x="136.15" y="677.45" width="4.300000000000001" height="4.300000000000001" fill="none" stroke="#000" stroke-width="1.1"/>
<text x="148.30" y="682.40" font-size="8.0" font-weight="normal" text-anchor="start" fill="#000" textLength="73.60" lengthAdjust="spacingAndGlyphs">BCL1 + &#945;DR3 (n=17)</text>
<text x="267.00" y="224.80" font-size="10.8" font-weight="bold" text-anchor="start" fill="#000">D</text>
<text x="351.60" y="240.30" font-size="9.3" font-weight="normal" text-anchor="middle" fill="#000" style="stroke:#000;stroke-width:0.15px" textLength="15.60" lengthAdjust="spacingAndGlyphs">D22</text>
<text x="375.70" y="240.30" font-size="9.3" font-weight="normal" text-anchor="middle" fill="#000" style="stroke:#000;stroke-width:0.15px" textLength="15.60" lengthAdjust="spacingAndGlyphs">D30</text>
<text x="400.40" y="240.30" font-size="9.3" font-weight="normal" text-anchor="middle" fill="#000" style="stroke:#000;stroke-width:0.15px" textLength="15.60" lengthAdjust="spacingAndGlyphs">D37</text>
<text x="442.10" y="240.30" font-size="9.3" font-weight="normal" text-anchor="middle" fill="#000" style="stroke:#000;stroke-width:0.15px" textLength="15.60" lengthAdjust="spacingAndGlyphs">D44</text>
<text x="467.70" y="240.90" font-size="9.3" font-weight="normal" text-anchor="middle" fill="#000" style="stroke:#000;stroke-width:0.15px" textLength="15.60" lengthAdjust="spacingAndGlyphs">D52</text>
<text x="491.20" y="240.30" font-size="9.3" font-weight="normal" text-anchor="middle" fill="#000" style="stroke:#000;stroke-width:0.15px" textLength="15.60" lengthAdjust="spacingAndGlyphs">D60</text>
<text x="325.60" y="273.70" font-size="9.3" font-weight="normal" text-anchor="middle" fill="#000" style="stroke:#000;stroke-width:0.15px" textLength="20.30" lengthAdjust="spacingAndGlyphs" transform="rotate(-90 325.60 273.70)">BCL1</text>
<text x="318.30" y="347.30" font-size="9.3" font-weight="normal" text-anchor="middle" fill="#000" textLength="27.60" lengthAdjust="spacingAndGlyphs" transform="rotate(-90 318.30 347.30)">BCL1 +</text>
<text x="327.90" y="347.50" font-size="9.3" font-weight="normal" text-anchor="middle" fill="#000" textLength="52.70" lengthAdjust="spacingAndGlyphs" transform="rotate(-90 327.90 347.50)">Isotype T cells</text>
<text x="319.00" y="409.20" font-size="9.3" font-weight="normal" text-anchor="middle" fill="#000" textLength="27.60" lengthAdjust="spacingAndGlyphs" transform="rotate(-90 319.00 409.20)">BCL1 +</text>
<text x="329.00" y="410.00" font-size="9.3" font-weight="normal" text-anchor="middle" fill="#000" textLength="48.60" lengthAdjust="spacingAndGlyphs" transform="rotate(-90 329.00 410.00)">&#945;DR3 T cells</text>
<text x="431.50" y="347.90" font-size="9.9" font-weight="normal" text-anchor="start" fill="#2a2a2a" style="stroke:#2a2a2a;stroke-width:0.4px" textLength="78.40" lengthAdjust="spacingAndGlyphs">Death From GVHD</text>
<circle cx="420.9" cy="224.50" r="1.15" fill="#000"/>
<circle cx="420.9" cy="232.98" r="1.15" fill="#000"/>
<circle cx="420.9" cy="241.46" r="1.15" fill="#000"/>
<circle cx="420.9" cy="249.94" r="1.15" fill="#000"/>
<circle cx="420.9" cy="258.42" r="1.15" fill="#000"/>
<circle cx="420.9" cy="266.90" r="1.15" fill="#000"/>
<circle cx="420.9" cy="275.38" r="1.15" fill="#000"/>
<circle cx="420.9" cy="283.86" r="1.15" fill="#000"/>
<circle cx="420.9" cy="292.34" r="1.15" fill="#000"/>
<circle cx="420.9" cy="300.82" r="1.15" fill="#000"/>
<circle cx="420.9" cy="309.30" r="1.15" fill="#000"/>
<circle cx="420.9" cy="317.78" r="1.15" fill="#000"/>
<circle cx="420.9" cy="326.26" r="1.15" fill="#000"/>
<circle cx="420.9" cy="334.74" r="1.15" fill="#000"/>
<circle cx="420.9" cy="343.22" r="1.15" fill="#000"/>
<circle cx="420.9" cy="351.70" r="1.15" fill="#000"/>
<circle cx="420.9" cy="360.18" r="1.15" fill="#000"/>
<circle cx="420.9" cy="368.66" r="1.15" fill="#000"/>
<circle cx="420.9" cy="377.14" r="1.15" fill="#000"/>
<circle cx="420.9" cy="385.62" r="1.15" fill="#000"/>
<circle cx="420.9" cy="394.10" r="1.15" fill="#000"/>
<circle cx="420.9" cy="402.58" r="1.15" fill="#000"/>
<circle cx="420.9" cy="411.06" r="1.15" fill="#000"/>
<circle cx="420.9" cy="419.54" r="1.15" fill="#000"/>
<circle cx="420.9" cy="428.02" r="1.15" fill="#000"/>
<circle cx="420.9" cy="436.50" r="1.15" fill="#000"/>
<circle cx="420.9" cy="444.98" r="1.15" fill="#000"/>
<circle cx="420.9" cy="453.46" r="1.15" fill="#000"/>
<circle cx="420.9" cy="461.94" r="1.15" fill="#000"/>
<circle cx="420.9" cy="470.42" r="1.15" fill="#000"/>
<g transform="translate(341.00 245.40) scale(0.9091 1.0048)">
<rect width="22" height="62" fill="#222"/>
<g clip-path="url(#fr)"><g filter="url(#bl)"><ellipse cx="11.5" cy="6" rx="5.2" ry="9.5" fill="#6a6a6a"/>
<ellipse cx="11.8" cy="12" rx="3.6" ry="5.5" fill="#bcbcbc"/>
<ellipse cx="11.5" cy="17.5" rx="5.5" ry="3.4" fill="#cccccc"/>
<path d="M0.8,16.5 L3.5,14.5 L9,18 L8,22 L2.5,20 Z" fill="#d4d4d4"/>
<path d="M14,14.5 L19,15 L21,20 L16,21 Z" fill="#c4c4c4"/>
<path d="M2.8,21 C1.8,32 2.8,46 5.8,55.5 L16.5,55.5 C20,46 20.6,32 19.6,21 C16,16 7.5,16 2.8,21 Z" fill="#dcdcdc"/>
<ellipse cx="11.2" cy="38" rx="7.2" ry="15" fill="#ececec"/>
<ellipse cx="10.8" cy="44" rx="4.5" ry="8" fill="#f5f5f5"/>
<path d="M1,59.5 L5,55 L10,57 L8,60.5 Z" fill="#a2a2a2"/>
<path d="M21,58.5 L17,55 L14.5,58 L18,60.5 Z" fill="#9a9a9a"/>
<rect x="10.5" y="55" width="2.4" height="7" fill="#aaa"/></g>
</g></g>
<g transform="translate(363.50 245.40) scale(0.9773 1.0048)">
<rect width="22" height="62" fill="#222"/>
<g clip-path="url(#fr)"><g filter="url(#bl)"><ellipse cx="11.5" cy="6" rx="5.2" ry="9.5" fill="#6a6a6a"/>
<ellipse cx="11.8" cy="12" rx="3.6" ry="5.5" fill="#bcbcbc"/>
<ellipse cx="11.5" cy="17.5" rx="5.5" ry="3.4" fill="#cccccc"/>
<path d="M0.8,16.5 L3.5,14.5 L9,18 L8,22 L2.5,20 Z" fill="#d4d4d4"/>
<path d="M14,14.5 L19,15 L21,20 L16,21 Z" fill="#c4c4c4"/>
<path d="M2.8,21 C1.8,32 2.8,46 5.8,55.5 L16.5,55.5 C20,46 20.6,32 19.6,21 C16,16 7.5,16 2.8,21 Z" fill="#dcdcdc"/>
<ellipse cx="11.2" cy="38" rx="7.2" ry="15" fill="#ececec"/>
<ellipse cx="10.8" cy="44" rx="4.5" ry="8" fill="#f5f5f5"/>
<path d="M1,59.5 L5,55 L10,57 L8,60.5 Z" fill="#a2a2a2"/>
<path d="M21,58.5 L17,55 L14.5,58 L18,60.5 Z" fill="#9a9a9a"/>
<rect x="10.5" y="55" width="2.4" height="7" fill="#aaa"/></g>
<g filter="url(#bl3)"><ellipse cx="11.8" cy="36.4" rx="5.6" ry="7.6" fill="#eeeefa" opacity="0.8"/><ellipse cx="11.1" cy="33.8" rx="2.9" ry="3.4" fill="#2626e0"/><ellipse cx="12.5" cy="39" rx="2.9" ry="3.3" fill="#2626e0"/><ellipse cx="11.1" cy="33.6" rx="1.1" ry="1.3" fill="#7070ff"/><ellipse cx="12.5" cy="39.2" rx="1.1" ry="1.3" fill="#7070ff"/></g>
</g></g>
<g transform="translate(388.00 245.40) scale(1.0273 1.0048)">
<rect width="22" height="62" fill="#222"/>
<g clip-path="url(#fr)"><g filter="url(#bl)"><ellipse cx="11.5" cy="6" rx="5.2" ry="9.5" fill="#6a6a6a"/>
<ellipse cx="11.8" cy="12" rx="3.6" ry="5.5" fill="#bcbcbc"/>
<ellipse cx="11.5" cy="17.5" rx="5.5" ry="3.4" fill="#cccccc"/>
<path d="M0.8,16.5 L3.5,14.5 L9,18 L8,22 L2.5,20 Z" fill="#d4d4d4"/>
<path d="M14,14.5 L19,15 L21,20 L16,21 Z" fill="#c4c4c4"/>
<path d="M2.8,21 C1.8,32 2.8,46 5.8,55.5 L16.5,55.5 C20,46 20.6,32 19.6,21 C16,16 7.5,16 2.8,21 Z" fill="#dcdcdc"/>
<ellipse cx="11.2" cy="38" rx="7.2" ry="15" fill="#ececec"/>
<ellipse cx="10.8" cy="44" rx="4.5" ry="8" fill="#f5f5f5"/>
<path d="M1,59.5 L5,55 L10,57 L8,60.5 Z" fill="#a2a2a2"/>
<path d="M21,58.5 L17,55 L14.5,58 L18,60.5 Z" fill="#9a9a9a"/>
<rect x="10.5" y="55" width="2.4" height="7" fill="#aaa"/></g>
<g filter="url(#bl3)"><ellipse cx="14" cy="36.8" rx="8.4" ry="11" fill="#2222d4"/><ellipse cx="14" cy="36.6" rx="6.3" ry="8.8" fill="#e4eef6"/><path d="M8.5,31 C10,27 17,26.5 19.5,30 C20.5,34 20,38 18.5,41 L12,41 Z" fill="#c8e040"/><ellipse cx="14.6" cy="33.5" rx="4.2" ry="4.5" fill="#70d0a0" opacity="0.6"/>
<path d="M9,31.5 C10.2,29.2 12.8,29.6 14.2,31 C16,29.4 18.6,30 18.6,33 C18.6,36.5 17.5,40 15.5,41 C13,41.8 10.2,41 9.3,38.5 C8.7,36 8.6,33.5 9,31.5 Z" fill="#e02a10"/></g>
</g></g>
<g transform="translate(432.00 245.40) scale(0.9864 1.0048)">
<rect width="22" height="62" fill="#222"/>
<g clip-path="url(#fr)"><g filter="url(#bl)"><ellipse cx="11.5" cy="6" rx="5.2" ry="9.5" fill="#6a6a6a"/>
<ellipse cx="11.8" cy="12" rx="3.6" ry="5.5" fill="#bcbcbc"/>
<ellipse cx="11.5" cy="17.5" rx="5.5" ry="3.4" fill="#cccccc"/>
<path d="M0.8,16.5 L3.5,14.5 L9,18 L8,22 L2.5,20 Z" fill="#d4d4d4"/>
<path d="M14,14.5 L19,15 L21,20 L16,21 Z" fill="#c4c4c4"/>
<path d="M2.8,21 C1.8,32 2.8,46 5.8,55.5 L16.5,55.5 C20,46 20.6,32 19.6,21 C16,16 7.5,16 2.8,21 Z" fill="#dcdcdc"/>
<ellipse cx="11.2" cy="38" rx="7.2" ry="15" fill="#ececec"/>
<ellipse cx="10.8" cy="44" rx="4.5" ry="8" fill="#f5f5f5"/>
<path d="M1,59.5 L5,55 L10,57 L8,60.5 Z" fill="#a2a2a2"/>
<path d="M21,58.5 L17,55 L14.5,58 L18,60.5 Z" fill="#9a9a9a"/>
<rect x="10.5" y="55" width="2.4" height="7" fill="#aaa"/></g>
<g filter="url(#bl2)"><rect width="22" height="62" fill="#1c1c1c"/>
<path d="M7.5,0 L14,0 L15,15 L6,15 Z" fill="#9a9a9a"/>
<ellipse cx="10.5" cy="7" rx="2.6" ry="6" fill="#cfcfcf"/>
<path d="M4,18 L16,14 L18,19 L4,24 Z" fill="#dcdcdc"/>
<path d="M1,24 L18,18 L20,46 L18,50 L3,50 L1,44 Z" fill="#2828d8"/>
<path d="M3,28 L18,22 L19,44 L3.5,45 Z" fill="#50c8b0"/>
<path d="M3.6,30 C3.6,27 16,22.5 18,25 C19,30 19,39 18,42.5 C14,44.5 6,44.5 4,42.5 C3.5,38 3.5,34 3.6,30 Z" fill="#e02a10"/>
<path d="M4,50 L17,49.5 L16,55 L14,62 L8,62 L6,55 Z" fill="#c8c8c8"/>
<ellipse cx="9" cy="57.5" rx="3.5" ry="1.8" fill="#777"/></g>
</g></g>
<g transform="translate(456.00 245.40) scale(0.9773 1.0048)">
<rect width="22" height="62" fill="#222"/>
<g clip-path="url(#fr)"><g filter="url(#bl)"><ellipse cx="11.5" cy="6" rx="5.2" ry="9.5" fill="#6a6a6a"/>
<ellipse cx="11.8" cy="12" rx="3.6" ry="5.5" fill="#bcbcbc"/>
<ellipse cx="11.5" cy="17.5" rx="5.5" ry="3.4" fill="#cccccc"/>
<path d="M0.8,16.5 L3.5,14.5 L9,18 L8,22 L2.5,20 Z" fill="#d4d4d4"/>
<path d="M14,14.5 L19,15 L21,20 L16,21 Z" fill="#c4c4c4"/>
<path d="M2.8,21 C1.8,32 2.8,46 5.8,55.5 L16.5,55.5 C20,46 20.6,32 19.6,21 C16,16 7.5,16 2.8,21 Z" fill="#dcdcdc"/>
<ellipse cx="11.2" cy="38" rx="7.2" ry="15" fill="#ececec"/>
<ellipse cx="10.8" cy="44" rx="4.5" ry="8" fill="#f5f5f5"/>
<path d="M1,59.5 L5,55 L10,57 L8,60.5 Z" fill="#a2a2a2"/>
<path d="M21,58.5 L17,55 L14.5,58 L18,60.5 Z" fill="#9a9a9a"/>
<rect x="10.5" y="55" width="2.4" height="7" fill="#aaa"/></g>
<g filter="url(#bl2)"><rect width="22" height="62" fill="#121216"/>
<path d="M9,3 L15,2 L16,10 L20,16 L21,48 L18,58 L5,58 L2,50 L1,22 L1.5,12 L7,13 Z" fill="#2a2ae0"/>
<path d="M2.5,21 L6,16.5 L13,16 L16,18 L19,22 L19.5,45 L3,46 Z" fill="#80d850"/>
<ellipse cx="10" cy="16" rx="1.8" ry="2.2" fill="#e04010"/>
<path d="M3.5,26 C4,22 9,20 13,20.5 C17.5,20.5 19.5,25 19.3,32 C19.3,40 18,43 15,42.5 C11,42 6,44 4.5,42 C3.5,37 3.3,31 3.5,26 Z" fill="#e02a10"/>
<ellipse cx="9" cy="52" rx="3.5" ry="2.5" fill="#6a6af0"/></g>
</g></g>
<g transform="translate(480.10 245.40) scale(1.0000 1.0048)">
<rect width="22" height="62" fill="#222"/>
<g clip-path="url(#fr)"><g filter="url(#bl)"><ellipse cx="11.5" cy="6" rx="5.2" ry="9.5" fill="#6a6a6a"/>
<ellipse cx="11.8" cy="12" rx="3.6" ry="5.5" fill="#bcbcbc"/>
<ellipse cx="11.5" cy="17.5" rx="5.5" ry="3.4" fill="#cccccc"/>
<path d="M0.8,16.5 L3.5,14.5 L9,18 L8,22 L2.5,20 Z" fill="#d4d4d4"/>
<path d="M14,14.5 L19,15 L21,20 L16,21 Z" fill="#c4c4c4"/>
<path d="M2.8,21 C1.8,32 2.8,46 5.8,55.5 L16.5,55.5 C20,46 20.6,32 19.6,21 C16,16 7.5,16 2.8,21 Z" fill="#dcdcdc"/>
<ellipse cx="11.2" cy="38" rx="7.2" ry="15" fill="#ececec"/>
<ellipse cx="10.8" cy="44" rx="4.5" ry="8" fill="#f5f5f5"/>
<path d="M1,59.5 L5,55 L10,57 L8,60.5 Z" fill="#a2a2a2"/>
<path d="M21,58.5 L17,55 L14.5,58 L18,60.5 Z" fill="#9a9a9a"/>
<rect x="10.5" y="55" width="2.4" height="7" fill="#aaa"/></g>
<g filter="url(#bl2)"><rect width="22" height="62" fill="#101020"/>
<path d="M0,9 L7,7 L6,52 L2,58 L0,58 Z" fill="#2a32d8"/>
<path d="M18,12 L22,12 L22,58 L18,58Z" fill="#181848"/>
<ellipse cx="12" cy="4.5" rx="3" ry="2.4" fill="#90e0b0"/>
<path d="M8.5,6.5 L15,6 L17.5,12 L19.5,26 L20,46 L17.5,56 L12,57.5 L6,59.5 L2.5,57.5 L5,52 L5.2,40 L4.8,24 L2,19 L6,16.5 L8,12 Z" fill="#e02a10"/></g>
</g></g>
<g transform="translate(341.40 312.00) scale(0.9591 1.0016)">
<rect width="22" height="62" fill="#222"/>
<g clip-path="url(#fr)"><g filter="url(#bl)"><ellipse cx="11.5" cy="6" rx="5.2" ry="9.5" fill="#6a6a6a"/>
<ellipse cx="11.8" cy="12" rx="3.6" ry="5.5" fill="#bcbcbc"/>
<ellipse cx="11.5" cy="17.5" rx="5.5" ry="3.4" fill="#cccccc"/>
<path d="M0.8,16.5 L3.5,14.5 L9,18 L8,22 L2.5,20 Z" fill="#d4d4d4"/>
<path d="M14,14.5 L19,15 L21,20 L16,21 Z" fill="#c4c4c4"/>
<path d="M2.8,21 C1.8,32 2.8,46 5.8,55.5 L16.5,55.5 C20,46 20.6,32 19.6,21 C16,16 7.5,16 2.8,21 Z" fill="#dcdcdc"/>
<ellipse cx="11.2" cy="38" rx="7.2" ry="15" fill="#ececec"/>
<ellipse cx="10.8" cy="44" rx="4.5" ry="8" fill="#f5f5f5"/>
<path d="M1,59.5 L5,55 L10,57 L8,60.5 Z" fill="#a2a2a2"/>
<path d="M21,58.5 L17,55 L14.5,58 L18,60.5 Z" fill="#9a9a9a"/>
<rect x="10.5" y="55" width="2.4" height="7" fill="#aaa"/></g>
</g></g>
<g transform="translate(365.20 312.00) scale(0.9591 1.0016)">
<rect width="22" height="62" fill="#222"/>
<g clip-path="url(#fr)"><g filter="url(#bl)"><ellipse cx="11.5" cy="6" rx="5.2" ry="9.5" fill="#6a6a6a"/>
<ellipse cx="11.8" cy="12" rx="3.6" ry="5.5" fill="#bcbcbc"/>
<ellipse cx="11.5" cy="17.5" rx="5.5" ry="3.4" fill="#cccccc"/>
<path d="M0.8,16.5 L3.5,14.5 L9,18 L8,22 L2.5,20 Z" fill="#d4d4d4"/>
<path d="M14,14.5 L19,15 L21,20 L16,21 Z" fill="#c4c4c4"/>
<path d="M2.8,21 C1.8,32 2.8,46 5.8,55.5 L16.5,55.5 C20,46 20.6,32 19.6,21 C16,16 7.5,16 2.8,21 Z" fill="#dcdcdc"/>
<ellipse cx="11.2" cy="38" rx="7.2" ry="15" fill="#ececec"/>
<ellipse cx="10.8" cy="44" rx="4.5" ry="8" fill="#f5f5f5"/>
<path d="M1,59.5 L5,55 L10,57 L8,60.5 Z" fill="#a2a2a2"/>
<path d="M21,58.5 L17,55 L14.5,58 L18,60.5 Z" fill="#9a9a9a"/>
<rect x="10.5" y="55" width="2.4" height="7" fill="#aaa"/></g>
</g></g>
<g transform="translate(389.10 312.00) scale(0.9727 1.0016)">
<rect width="22" height="62" fill="#222"/>
<g clip-path="url(#fr)"><g filter="url(#bl)"><ellipse cx="11.5" cy="6" rx="5.2" ry="9.5" fill="#6a6a6a"/>
<ellipse cx="11.8" cy="12" rx="3.6" ry="5.5" fill="#bcbcbc"/>
<ellipse cx="11.5" cy="17.5" rx="5.5" ry="3.4" fill="#cccccc"/>
<path d="M0.8,16.5 L3.5,14.5 L9,18 L8,22 L2.5,20 Z" fill="#d4d4d4"/>
<path d="M14,14.5 L19,15 L21,20 L16,21 Z" fill="#c4c4c4"/>
<path d="M2.8,21 C1.8,32 2.8,46 5.8,55.5 L16.5,55.5 C20,46 20.6,32 19.6,21 C16,16 7.5,16 2.8,21 Z" fill="#dcdcdc"/>
<ellipse cx="11.2" cy="38" rx="7.2" ry="15" fill="#ececec"/>
<ellipse cx="10.8" cy="44" rx="4.5" ry="8" fill="#f5f5f5"/>
<path d="M1,59.5 L5,55 L10,57 L8,60.5 Z" fill="#a2a2a2"/>
<path d="M21,58.5 L17,55 L14.5,58 L18,60.5 Z" fill="#9a9a9a"/>
<rect x="10.5" y="55" width="2.4" height="7" fill="#aaa"/></g>
</g></g>
<g transform="translate(341.40 378.40) scale(0.9591 1.0065)">
<rect width="22" height="62" fill="#222"/>
<g clip-path="url(#fr)"><g filter="url(#bl)"><ellipse cx="11.5" cy="6" rx="5.2" ry="9.5" fill="#6a6a6a"/>
<ellipse cx="11.8" cy="12" rx="3.6" ry="5.5" fill="#bcbcbc"/>
<ellipse cx="11.5" cy="17.5" rx="5.5" ry="3.4" fill="#cccccc"/>
<path d="M0.8,16.5 L3.5,14.5 L9,18 L8,22 L2.5,20 Z" fill="#d4d4d4"/>
<path d="M14,14.5 L19,15 L21,20 L16,21 Z" fill="#c4c4c4"/>
<path d="M2.8,21 C1.8,32 2.8,46 5.8,55.5 L16.5,55.5 C20,46 20.6,32 19.6,21 C16,16 7.5,16 2.8,21 Z" fill="#dcdcdc"/>
<ellipse cx="11.2" cy="38" rx="7.2" ry="15" fill="#ececec"/>
<ellipse cx="10.8" cy="44" rx="4.5" ry="8" fill="#f5f5f5"/>
<path d="M1,59.5 L5,55 L10,57 L8,60.5 Z" fill="#a2a2a2"/>
<path d="M21,58.5 L17,55 L14.5,58 L18,60.5 Z" fill="#9a9a9a"/>
<rect x="10.5" y="55" width="2.4" height="7" fill="#aaa"/></g>
</g></g>
<g transform="translate(365.20 378.40) scale(0.9818 1.0065)">
<rect width="22" height="62" fill="#222"/>
<g clip-path="url(#fr)"><g filter="url(#bl)"><ellipse cx="11.5" cy="6" rx="5.2" ry="9.5" fill="#6a6a6a"/>
<ellipse cx="11.8" cy="12" rx="3.6" ry="5.5" fill="#bcbcbc"/>
<ellipse cx="11.5" cy="17.5" rx="5.5" ry="3.4" fill="#cccccc"/>
<path d="M0.8,16.5 L3.5,14.5 L9,18 L8,22 L2.5,20 Z" fill="#d4d4d4"/>
<path d="M14,14.5 L19,15 L21,20 L16,21 Z" fill="#c4c4c4"/>
<path d="M2.8,21 C1.8,32 2.8,46 5.8,55.5 L16.5,55.5 C20,46 20.6,32 19.6,21 C16,16 7.5,16 2.8,21 Z" fill="#dcdcdc"/>
<ellipse cx="11.2" cy="38" rx="7.2" ry="15" fill="#ececec"/>
<ellipse cx="10.8" cy="44" rx="4.5" ry="8" fill="#f5f5f5"/>
<path d="M1,59.5 L5,55 L10,57 L8,60.5 Z" fill="#a2a2a2"/>
<path d="M21,58.5 L17,55 L14.5,58 L18,60.5 Z" fill="#9a9a9a"/>
<rect x="10.5" y="55" width="2.4" height="7" fill="#aaa"/></g>
</g></g>
<g transform="translate(389.10 378.40) scale(1.0045 1.0065)">
<rect width="22" height="62" fill="#222"/>
<g clip-path="url(#fr)"><g filter="url(#bl)"><ellipse cx="11.5" cy="6" rx="5.2" ry="9.5" fill="#6a6a6a"/>
<ellipse cx="11.8" cy="12" rx="3.6" ry="5.5" fill="#bcbcbc"/>
<ellipse cx="11.5" cy="17.5" rx="5.5" ry="3.4" fill="#cccccc"/>
<path d="M0.8,16.5 L3.5,14.5 L9,18 L8,22 L2.5,20 Z" fill="#d4d4d4"/>
<path d="M14,14.5 L19,15 L21,20 L16,21 Z" fill="#c4c4c4"/>
<path d="M2.8,21 C1.8,32 2.8,46 5.8,55.5 L16.5,55.5 C20,46 20.6,32 19.6,21 C16,16 7.5,16 2.8,21 Z" fill="#dcdcdc"/>
<ellipse cx="11.2" cy="38" rx="7.2" ry="15" fill="#ececec"/>
<ellipse cx="10.8" cy="44" rx="4.5" ry="8" fill="#f5f5f5"/>
<path d="M1,59.5 L5,55 L10,57 L8,60.5 Z" fill="#a2a2a2"/>
<path d="M21,58.5 L17,55 L14.5,58 L18,60.5 Z" fill="#9a9a9a"/>
<rect x="10.5" y="55" width="2.4" height="7" fill="#aaa"/></g>
</g></g>
<g transform="translate(430.20 378.40) scale(0.9955 1.0065)">
<rect width="22" height="62" fill="#222"/>
<g clip-path="url(#fr)"><g filter="url(#bl)"><ellipse cx="11.5" cy="6" rx="5.2" ry="9.5" fill="#6a6a6a"/>
<ellipse cx="11.8" cy="12" rx="3.6" ry="5.5" fill="#bcbcbc"/>
<ellipse cx="11.5" cy="17.5" rx="5.5" ry="3.4" fill="#cccccc"/>
<path d="M0.8,16.5 L3.5,14.5 L9,18 L8,22 L2.5,20 Z" fill="#d4d4d4"/>
<path d="M14,14.5 L19,15 L21,20 L16,21 Z" fill="#c4c4c4"/>
<path d="M2.8,21 C1.8,32 2.8,46 5.8,55.5 L16.5,55.5 C20,46 20.6,32 19.6,21 C16,16 7.5,16 2.8,21 Z" fill="#dcdcdc"/>
<ellipse cx="11.2" cy="38" rx="7.2" ry="15" fill="#ececec"/>
<ellipse cx="10.8" cy="44" rx="4.5" ry="8" fill="#f5f5f5"/>
<path d="M1,59.5 L5,55 L10,57 L8,60.5 Z" fill="#a2a2a2"/>
<path d="M21,58.5 L17,55 L14.5,58 L18,60.5 Z" fill="#9a9a9a"/>
<rect x="10.5" y="55" width="2.4" height="7" fill="#aaa"/></g>
</g></g>
<g transform="translate(455.10 378.40) scale(1.0000 1.0065)">
<rect width="22" height="62" fill="#222"/>
<g clip-path="url(#fr)"><g filter="url(#bl)"><ellipse cx="11.5" cy="6" rx="5.2" ry="9.5" fill="#6a6a6a"/>
<ellipse cx="11.8" cy="12" rx="3.6" ry="5.5" fill="#bcbcbc"/>
<ellipse cx="11.5" cy="17.5" rx="5.5" ry="3.4" fill="#cccccc"/>
<path d="M0.8,16.5 L3.5,14.5 L9,18 L8,22 L2.5,20 Z" fill="#d4d4d4"/>
<path d="M14,14.5 L19,15 L21,20 L16,21 Z" fill="#c4c4c4"/>
<path d="M2.8,21 C1.8,32 2.8,46 5.8,55.5 L16.5,55.5 C20,46 20.6,32 19.6,21 C16,16 7.5,16 2.8,21 Z" fill="#dcdcdc"/>
<ellipse cx="11.2" cy="38" rx="7.2" ry="15" fill="#ececec"/>
<ellipse cx="10.8" cy="44" rx="4.5" ry="8" fill="#f5f5f5"/>
<path d="M1,59.5 L5,55 L10,57 L8,60.5 Z" fill="#a2a2a2"/>
<path d="M21,58.5 L17,55 L14.5,58 L18,60.5 Z" fill="#9a9a9a"/>
<rect x="10.5" y="55" width="2.4" height="7" fill="#aaa"/></g>
</g></g>
<g transform="translate(480.00 378.40) scale(1.0409 1.0065)">
<rect width="22" height="62" fill="#222"/>
<g clip-path="url(#fr)"><g filter="url(#bl)"><ellipse cx="11.5" cy="6" rx="5.2" ry="9.5" fill="#6a6a6a"/>
<ellipse cx="11.8" cy="12" rx="3.6" ry="5.5" fill="#bcbcbc"/>
<ellipse cx="11.5" cy="17.5" rx="5.5" ry="3.4" fill="#cccccc"/>
<path d="M0.8,16.5 L3.5,14.5 L9,18 L8,22 L2.5,20 Z" fill="#d4d4d4"/>
<path d="M14,14.5 L19,15 L21,20 L16,21 Z" fill="#c4c4c4"/>
<path d="M2.8,21 C1.8,32 2.8,46 5.8,55.5 L16.5,55.5 C20,46 20.6,32 19.6,21 C16,16 7.5,16 2.8,21 Z" fill="#dcdcdc"/>
<ellipse cx="11.2" cy="38" rx="7.2" ry="15" fill="#ececec"/>
<ellipse cx="10.8" cy="44" rx="4.5" ry="8" fill="#f5f5f5"/>
<path d="M1,59.5 L5,55 L10,57 L8,60.5 Z" fill="#a2a2a2"/>
<path d="M21,58.5 L17,55 L14.5,58 L18,60.5 Z" fill="#9a9a9a"/>
<rect x="10.5" y="55" width="2.4" height="7" fill="#aaa"/></g>
</g></g>
<text x="336.90" y="451.80" font-size="5.4" font-weight="normal" text-anchor="start" fill="#2b2b55" textLength="72.30" lengthAdjust="spacingAndGlyphs">Luminescence (p/sec/cm&#178;/sr)</text>
<rect x="343.5" y="455.5" width="66.10" height="5.7" fill="url(#lum)"/>
<text x="350.80" y="470.60" font-size="6.0" font-weight="normal" text-anchor="middle" fill="#444" textLength="8.20" lengthAdjust="spacingAndGlyphs">0.2</text>
<text x="364.97" y="470.60" font-size="6.0" font-weight="normal" text-anchor="middle" fill="#444" textLength="8.20" lengthAdjust="spacingAndGlyphs">0.4</text>
<text x="379.14" y="470.60" font-size="6.0" font-weight="normal" text-anchor="middle" fill="#444" textLength="8.20" lengthAdjust="spacingAndGlyphs">0.6</text>
<text x="393.31" y="470.60" font-size="6.0" font-weight="normal" text-anchor="middle" fill="#444" textLength="8.20" lengthAdjust="spacingAndGlyphs">0.8</text>
<text x="407.47" y="470.60" font-size="6.0" font-weight="normal" text-anchor="middle" fill="#444" textLength="8.20" lengthAdjust="spacingAndGlyphs">1.0</text>
<text x="378.4" y="479.5" font-size="6" text-anchor="middle" fill="#444">(x10<tspan font-size="4.5" dy="-2.2">5</tspan><tspan dy="2.2">)</tspan></text>
<text x="432.50" y="451.80" font-size="5.4" font-weight="normal" text-anchor="start" fill="#2b2b55" textLength="70.20" lengthAdjust="spacingAndGlyphs">Luminescence (p/sec/cm&#178;/sr)</text>
<rect x="433.8" y="455.5" width="66.10" height="5.7" fill="url(#lum)"/>
<text x="441.10" y="470.60" font-size="6.0" font-weight="normal" text-anchor="middle" fill="#444" textLength="8.20" lengthAdjust="spacingAndGlyphs">0.2</text>
<text x="455.27" y="470.60" font-size="6.0" font-weight="normal" text-anchor="middle" fill="#444" textLength="8.20" lengthAdjust="spacingAndGlyphs">0.4</text>
<text x="469.44" y="470.60" font-size="6.0" font-weight="normal" text-anchor="middle" fill="#444" textLength="8.20" lengthAdjust="spacingAndGlyphs">0.6</text>
<text x="483.61" y="470.60" font-size="6.0" font-weight="normal" text-anchor="middle" fill="#444" textLength="8.20" lengthAdjust="spacingAndGlyphs">0.8</text>
<text x="497.77" y="470.60" font-size="6.0" font-weight="normal" text-anchor="middle" fill="#444" textLength="8.20" lengthAdjust="spacingAndGlyphs">1.0</text>
<text x="468.4" y="479.5" font-size="6" text-anchor="middle" fill="#444">(x10<tspan font-size="4.5" dy="-2.2">6</tspan><tspan dy="2.2">)</tspan></text>
</svg>
</body></html>
